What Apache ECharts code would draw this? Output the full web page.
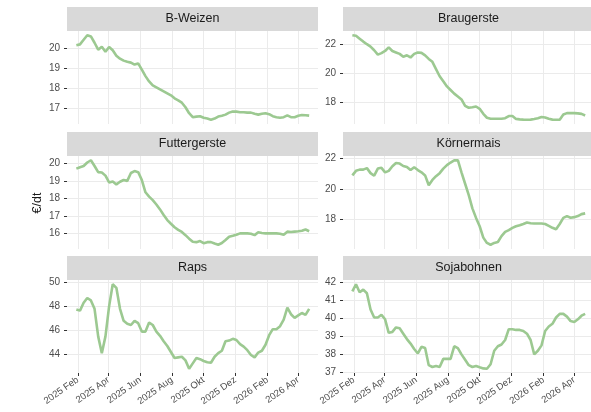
<!DOCTYPE html>
<html>
<head>
<meta charset="utf-8">
<script src="https://cdn.jsdelivr.net/npm/echarts@6/dist/echarts.min.js"></script>
<style>
  html, body { margin: 0; padding: 0; background: #fff; }
  #chart { width: 591px; height: 412px; }
</style>
</head>
<body>
<div id="chart"></div>
<script>
// weekly price observations (€/dt)
const dates = [
    '2025-01-29', '2025-02-05', '2025-02-12', '2025-02-19', '2025-02-26', '2025-03-05', '2025-03-12', '2025-03-19',
    '2025-03-26', '2025-04-02', '2025-04-09', '2025-04-16', '2025-04-23', '2025-04-30', '2025-05-07', '2025-05-14',
    '2025-05-21', '2025-05-28', '2025-06-04', '2025-06-11', '2025-06-18', '2025-06-25', '2025-07-02', '2025-07-09',
    '2025-07-16', '2025-07-23', '2025-07-30', '2025-08-06', '2025-08-13', '2025-08-20', '2025-08-27', '2025-09-03',
    '2025-09-10', '2025-09-17', '2025-09-24', '2025-10-01', '2025-10-08', '2025-10-15', '2025-10-22', '2025-10-29',
    '2025-11-05', '2025-11-12', '2025-11-19', '2025-11-26', '2025-12-03', '2025-12-10', '2025-12-17', '2025-12-24',
    '2025-12-31', '2026-01-07', '2026-01-14', '2026-01-21', '2026-01-28', '2026-02-04', '2026-02-11', '2026-02-18',
    '2026-02-25', '2026-03-04', '2026-03-11', '2026-03-18', '2026-03-25', '2026-04-01', '2026-04-08', '2026-04-15',
    '2026-04-22'
];

const bWeizen = [20.18, 20.22, 20.45, 20.68, 20.62, 20.3, 19.95, 20.1, 19.85, 20.09,
    19.92, 19.65, 19.5, 19.4, 19.34, 19.3, 19.2, 19.26, 18.95, 18.62,
    18.35, 18.15, 18.05, 17.95, 17.85, 17.75, 17.65, 17.5, 17.4, 17.28,
    17.05, 16.75, 16.55, 16.58, 16.6, 16.52, 16.48, 16.42, 16.48, 16.58,
    16.62, 16.68, 16.78, 16.84, 16.83, 16.8, 16.8, 16.78, 16.78, 16.72,
    16.68, 16.72, 16.75, 16.7, 16.6, 16.55, 16.52, 16.55, 16.64, 16.55,
    16.55, 16.62, 16.66, 16.65, 16.63];

const braugerste = [22.64, 22.6, 22.4, 22.2, 22.02, 21.85, 21.6, 21.3, 21.4, 21.55,
    21.8, 21.55, 21.45, 21.35, 21.15, 21.25, 21.1, 21.35, 21.45, 21.42,
    21.25, 21.0, 20.8, 20.3, 19.8, 19.45, 19.1, 18.85, 18.6, 18.4,
    18.2, 17.75, 17.62, 17.66, 17.71, 17.55, 17.2, 16.93, 16.86, 16.86,
    16.86, 16.86, 16.9, 17.05, 17.05, 16.85, 16.82, 16.8, 16.79, 16.8,
    16.84, 16.9, 16.98, 16.95, 16.86, 16.8, 16.79, 16.79, 17.15, 17.25,
    17.25, 17.25, 17.23, 17.2, 17.09];

const futtergerste = [19.7, 19.78, 19.85, 20.05, 20.18, 19.85, 19.5, 19.48, 19.3, 18.91,
    18.97, 18.8, 18.95, 19.05, 19.0, 19.45, 19.56, 19.5, 19.05, 18.35,
    18.1, 17.9, 17.65, 17.37, 17.05, 16.76, 16.55, 16.35, 16.2, 16.08,
    15.9, 15.7, 15.52, 15.5, 15.56, 15.44, 15.5, 15.5, 15.42, 15.35,
    15.45, 15.62, 15.81, 15.86, 15.92, 16.0, 16.0, 16.0, 15.98, 15.9,
    16.06, 16.02, 16.0, 16.0, 16.0, 16.0, 15.98, 15.92, 16.1, 16.08,
    16.1, 16.12, 16.15, 16.22, 16.12];

const koernermais = [20.9, 21.2, 21.28, 21.28, 21.38, 21.05, 20.88, 21.35, 21.4, 21.1,
    21.2, 21.5, 21.72, 21.68, 21.52, 21.46, 21.25, 21.44, 21.25, 21.1,
    20.9, 20.25, 20.6, 20.85, 21.05, 21.35, 21.58, 21.75, 21.89, 21.9,
    21.1, 20.35, 19.6, 18.73, 18.1, 17.55, 16.8, 16.45, 16.33, 16.45,
    16.51, 16.9, 17.18, 17.3, 17.44, 17.55, 17.62, 17.7, 17.8, 17.75,
    17.73, 17.73, 17.73, 17.7, 17.58, 17.45, 17.35, 17.7, 18.1, 18.22,
    18.11, 18.15, 18.22, 18.35, 18.4];

const raps = [47.75, 47.65, 48.3, 48.7, 48.5, 47.8, 45.5, 44.1, 45.5, 48.0,
    49.85, 49.55, 47.8, 46.8, 46.55, 46.45, 46.8, 46.6, 45.9, 45.9,
    46.65, 46.45, 45.9, 45.55, 45.1, 44.7, 44.2, 43.7, 43.75, 43.8,
    43.5, 42.8, 43.25, 43.7, 43.6, 43.45, 43.35, 43.3, 43.8, 44.1,
    44.3, 45.1, 45.15, 45.3, 45.2, 44.85, 44.65, 44.35, 43.95, 43.75,
    44.15, 44.3, 44.8, 45.6, 46.1, 46.1, 46.35, 46.9, 47.9, 47.35,
    47.05, 47.25, 47.45, 47.3, 47.8];

const sojabohnen = [41.5, 41.9, 41.45, 41.6, 41.4, 40.5, 40.05, 40.05, 40.2, 39.95,
    39.2, 39.25, 39.5, 39.45, 39.15, 38.85, 38.6, 38.3, 38.05, 38.42,
    38.35, 37.4, 37.3, 37.35, 37.3, 37.75, 37.75, 37.75, 38.45, 38.35,
    38.0, 37.7, 37.4, 37.3, 37.35, 37.28, 37.22, 37.2, 37.45, 38.2,
    38.45, 38.55, 38.8, 39.4, 39.4, 39.36, 39.36, 39.3, 39.15, 38.8,
    38.0, 38.2, 38.5, 39.3, 39.55, 39.7, 40.05, 40.25, 40.25, 40.1,
    39.85, 39.8, 39.95, 40.15, 40.25];

const panelNames = ['B-Weizen', 'Braugerste', 'Futtergerste', 'Körnermais', 'Raps', 'Sojabohnen'];
const panelValues = [bWeizen, braugerste, futtergerste, koernermais, raps, sojabohnen];
const yTicks = [
    [17, 18, 19, 20],
    [18, 20, 22],
    [16, 17, 18, 19, 20],
    [18, 20, 22],
    [44, 46, 48, 50],
    [37, 38, 39, 40, 41, 42]
];
const xTicks = ['2025-02-01', '2025-04-01', '2025-06-01', '2025-08-01', '2025-10-01', '2025-12-01', '2026-02-01', '2026-04-01'];
const monthNames = ['Jan', 'Feb', 'Mär', 'Apr', 'Mai', 'Jun', 'Jul', 'Aug', 'Sep', 'Okt', 'Nov', 'Dez'];

// layout of the facet grid
const colLeft = [67, 343];
const rowTop = [31, 156, 280];
const panelW = 251;
const panelH = 93;
const stripH = 24;
const xMin = Date.parse('2025-01-11');
const xMax = Date.parse('2026-05-09');
const lineColor = '#9cc991';
const font = '"Liberation Sans", Arial, sans-serif';

const xTickVals = xTicks.map(d => Date.parse(d));
const fmtDate = (v) => {
    const d = new Date(v);
    return d.getUTCFullYear() + ' ' + monthNames[d.getUTCMonth()];
};

const grids = [], xAxes = [], yAxes = [], series = [], graphics = [];

panelNames.forEach((name, i) => {
    const col = i % 2;
    const row = Math.floor(i / 2);
    const isBottom = row === 2;
    const left = colLeft[col];
    const top = rowTop[row];

    grids.push({ left: left, top: top, width: panelW, height: panelH, containLabel: false, outerBoundsMode: 'none' });

    xAxes.push({
        gridIndex: i,
        type: 'value',
        min: xMin,
        max: xMax,
        axisLine: { show: false },
        axisTick: { show: isBottom, customValues: xTickVals, length: 3, lineStyle: { color: '#333' } },
        axisLabel: {
            show: isBottom,
            customValues: xTickVals,
            rotate: 35,
            margin: 6,
            color: '#4d4d4d',
            fontSize: 9.5,
            fontFamily: font,
            formatter: fmtDate
        },
        splitLine: { show: true, lineStyle: { color: '#ebebeb', width: 1 } }
    });

    yAxes.push({
        gridIndex: i,
        type: 'value',
        min: (v) => v.min - (v.max - v.min) * 0.05,
        max: (v) => v.max + (v.max - v.min) * 0.05,
        axisLine: { show: false },
        axisTick: { show: true, customValues: yTicks[i], length: 3, lineStyle: { color: '#333' } },
        axisLabel: { customValues: yTicks[i], margin: 7, color: '#4d4d4d', fontSize: 10, fontFamily: font },
        splitLine: { show: true, lineStyle: { color: '#ebebeb', width: 1 } }
    });

    series.push({
        type: 'line',
        name: name,
        xAxisIndex: i,
        yAxisIndex: i,
        showSymbol: false,
        lineStyle: { color: lineColor, width: 2.6 },
        data: panelValues[i].map((v, k) => [Date.parse(dates[k]), v])
    });

    // facet strip
    graphics.push({
        type: 'rect',
        shape: { x: left, y: top - stripH, width: panelW, height: stripH },
        style: { fill: '#d9d9d9' },
        z: 0
    });
    graphics.push({
        type: 'text',
        x: left + panelW / 2,
        y: top - stripH / 2,
        style: { text: name, fill: '#1a1a1a', font: '12.5px ' + font, align: 'center', verticalAlign: 'middle' }
    });
});

graphics.push({
    type: 'text',
    x: 38,
    y: 203,
    rotation: Math.PI / 2,
    style: { text: '€/dt', fill: '#1a1a1a', font: '12.5px ' + font, align: 'center', verticalAlign: 'middle' }
});

const chart = echarts.init(document.getElementById('chart'));
chart.setOption({
    animation: false,
    backgroundColor: '#fff',
    grid: grids,
    xAxis: xAxes,
    yAxis: yAxes,
    series: series,
    graphic: graphics
});
</script>
</body>
</html>
